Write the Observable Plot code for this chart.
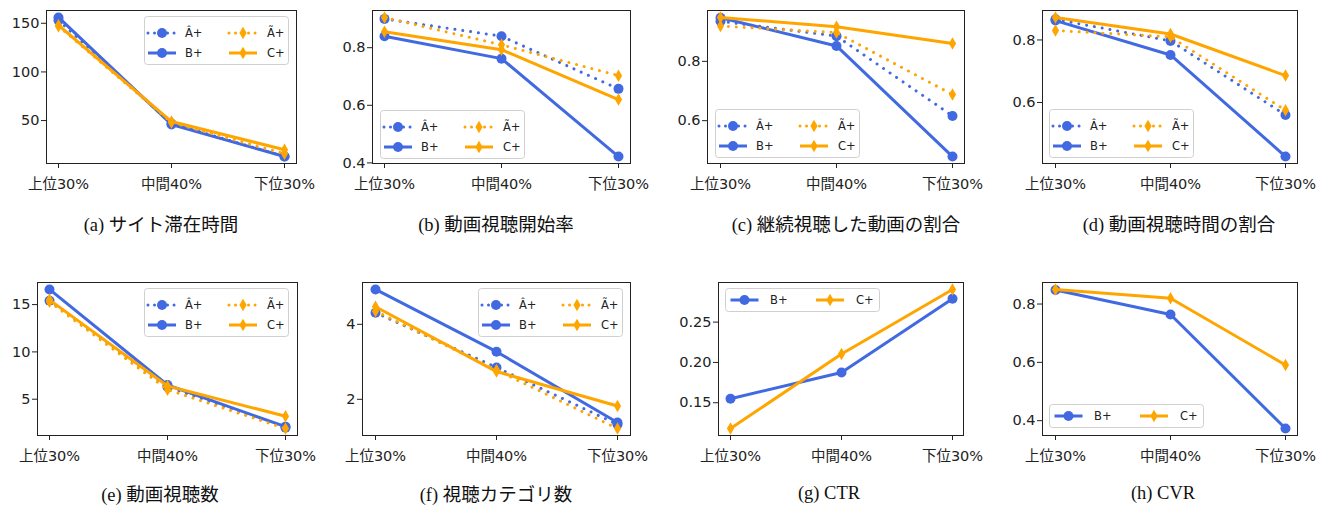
<!DOCTYPE html>
<html><head><meta charset="utf-8">
<script src="https://cdn.jsdelivr.net/npm/d3@7"></script>
<script src="https://cdn.jsdelivr.net/npm/@observablehq/plot@0.6"></script>
<style>
body{margin:0;background:#fff;}
#root{position:relative;width:1329px;height:506px;overflow:hidden;background:#fff;}
.panel{position:absolute;}
.caption{position:absolute;transform:translate(-50%,-50%);font-family:"Liberation Serif","Noto Sans CJK JP",serif;font-size:18.5px;color:#111;white-space:nowrap;}
.legend{position:absolute;}
</style></head><body><div id="root"></div>
<script>
// ---------- data ----------
const categories = ["上位30%", "中間40%", "下位30%"];
const labels4 = ["Â+", "B+", "Ã+", "C+"];
const labels2 = ["B+", "C+"];

// order: Â+, B+, Ã+, C+
const siteStayTime   = [[153, 47, 13], [156, 46, 13], [147, 48, 16], [148, 49, 20]];
const viewStartRate  = [[0.900, 0.840, 0.657], [0.840, 0.762, 0.422], [0.905, 0.810, 0.703], [0.855, 0.793, 0.620]];
const continuedRate  = [[0.935, 0.885, 0.616], [0.947, 0.852, 0.479], [0.919, 0.897, 0.688], [0.948, 0.917, 0.860]];
const watchTimeRate  = [[0.866, 0.797, 0.560], [0.862, 0.752, 0.427], [0.830, 0.810, 0.575], [0.872, 0.819, 0.686]];
const viewCount      = [[15.4, 6.3, 2.0], [16.6, 6.5, 2.1], [15.3, 6.0, 1.9], [15.5, 6.4, 3.2]];
const categoryCount  = [[4.31, 2.85, 1.33], [4.93, 3.27, 1.38], [4.35, 2.78, 1.22], [4.47, 2.74, 1.82]];
// order: B+, C+
const ctrValues      = [[0.155, 0.1875, 0.279], [0.118, 0.2105, 0.2905]];
const cvrValues      = [[0.848, 0.764, 0.373], [0.850, 0.820, 0.591]];

const ticksA = [50, 100, 150];
const ticksB = [0.4, 0.6, 0.8];
const ticksC = [0.6, 0.8];
const ticksD = [0.6, 0.8];
const ticksE = [5, 10, 15];
const ticksF = [2, 4];
const ticksG = [0.15, 0.20, 0.25];
const ticksH = [0.4, 0.6, 0.8];

const captions = ["(a) サイト滞在時間", "(b) 動画視聴開始率", "(c) 継続視聴した動画の割合", "(d) 動画視聴時間の割合",
                  "(e) 動画視聴数", "(f) 視聴カテゴリ数", "(g) CTR", "(h) CVR"];

// ---------- styles ----------
const BLUE = "#4169E1", ORANGE = "#FFA500";
const DOTS = "0.01,7.9";
const style4 = [
  {color: BLUE, dotted: true, shape: "circle"},
  {color: BLUE, dotted: false, shape: "circle"},
  {color: ORANGE, dotted: true, shape: "diamond"},
  {color: ORANGE, dotted: false, shape: "diamond"}
];
const style2 = [style4[1], style4[3]];

const thinDiamond = {
  draw(ctx, size) {
    const r = Math.sqrt(size / Math.PI);
    const h = 1.25 * r, w = 0.72 * r;
    ctx.moveTo(0, -h); ctx.lineTo(w, 0); ctx.lineTo(0, h); ctx.lineTo(-w, 0); ctx.closePath();
  }
};

// layout: frame [L, T, R, B], legend [x, y], caption [cx, cy]
const panels = [
  {data: siteStayTime, names: labels4, styles: style4, ticks: ticksA, fmt: d3.format("d"),   frame: [46, 10, 296, 163],   legend: [144, 16],  cap: [161, 223]},
  {data: viewStartRate, names: labels4, styles: style4, ticks: ticksB, fmt: d3.format(".1f"), frame: [372, 10, 630, 163],  legend: [380, 110], cap: [496, 223]},
  {data: continuedRate, names: labels4, styles: style4, ticks: ticksC, fmt: d3.format(".1f"), frame: [707, 10, 964, 163],  legend: [715, 109], cap: [846, 223]},
  {data: watchTimeRate, names: labels4, styles: style4, ticks: ticksD, fmt: d3.format(".1f"), frame: [1042, 10, 1297, 163], legend: [1049, 109], cap: [1179, 223]},
  {data: viewCount, names: labels4, styles: style4, ticks: ticksE, fmt: d3.format("d"),       frame: [37, 282, 297, 435],  legend: [144, 288], cap: [160, 493]},
  {data: categoryCount, names: labels4, styles: style4, ticks: ticksF, fmt: d3.format("d"),   frame: [362, 282, 630, 435], legend: [478, 288], cap: [496, 493]},
  {data: ctrValues, names: labels2, styles: style2, ticks: ticksG, fmt: d3.format(".2f"),     frame: [718, 282, 963, 435], legend: [725, 288], cap: [829, 493]},
  {data: cvrValues, names: labels2, styles: style2, ticks: ticksH, fmt: d3.format(".1f"),     frame: [1042, 282, 1297, 435], legend: [1049, 404], cap: [1163, 493]}
];

const root = document.getElementById("root");
const ML = 50, MR = 10, MT = 10, MB = 40;

panels.forEach((p, pi) => {
  const [L, T, R, B] = p.frame;
  const rows = p.data.flatMap((vals, si) => vals.map((v, i) => ({cat: categories[i], v, s: p.names[si]})));
  const all = rows.map(d => d.v);
  const lo = d3.min(all), hi = d3.max(all), pad = (hi - lo) * 0.05;
  const marks = [
    Plot.frame({stroke: "#222", strokeWidth: 1}),
    Plot.axisX({tickSize: 5, tickPadding: 10, label: null, fontSize: 14.5}),
    Plot.axisY({ticks: p.ticks, tickFormat: p.fmt, tickSize: 5, tickPadding: 2, label: null, fontSize: 14.5})
  ];
  p.names.forEach((name, si) => {
    const st = p.styles[si];
    const sub = rows.filter(d => d.s === name);
    marks.push(Plot.line(sub, {x: "cat", y: "v", stroke: st.color, strokeWidth: 3,
      strokeDasharray: st.dotted ? DOTS : null, strokeLinecap: st.dotted ? "round" : "butt"}));
    marks.push(Plot.dot(sub, {x: "cat", y: "v", r: 5, fill: st.color, stroke: "none",
      symbol: st.shape === "circle" ? "circle" : thinDiamond}));
  });
  const chart = Plot.plot({
    width: (R - L) + ML + MR, height: (B - T) + MT + MB,
    marginLeft: ML, marginRight: MR, marginTop: MT, marginBottom: MB,
    x: {type: "point", domain: categories, padding: 0.1, label: null},
    y: {domain: [lo - pad, hi + pad], label: null},
    style: {fontFamily: '"DejaVu Sans","Noto Sans CJK JP",sans-serif', fontSize: "14.5px", color: "#222",
            background: "transparent", overflow: "visible"},
    marks
  });
  const wrap = document.createElement("div");
  wrap.className = "panel";
  wrap.style.left = (L - ML) + "px";
  wrap.style.top = (T - MT) + "px";
  wrap.appendChild(chart);
  root.appendChild(wrap);

  // legend
  const four = p.names.length === 4;
  const lw = four ? 145 : 155, lh = four ? 49 : 24;
  const colCenters = four ? [18, 99] : [19.5, 105];
  const colLabels = four ? [41, 123] : [45, 131];
  const rowYs = four ? [17, 37] : [12];
  const lg = d3.create("svg").attr("width", lw).attr("height", lh)
    .style("position", "absolute").style("left", p.legend[0] + "px").style("top", p.legend[1] + "px")
    .style("overflow", "visible");
  lg.append("rect").attr("x", 0.5).attr("y", 0.5).attr("width", lw - 1).attr("height", lh - 1)
    .attr("rx", 3).attr("fill", "white").attr("fill-opacity", 0.8).attr("stroke", "#d0d0d0");
  p.names.forEach((name, si) => {
    const col = four ? Math.floor(si / 2) : si;
    const row = four ? si % 2 : 0;
    const st = p.styles[si];
    const cx = colCenters[col], cy = rowYs[row];
    lg.append("line").attr("x1", cx - 14).attr("x2", cx + 14).attr("y1", cy).attr("y2", cy)
      .attr("stroke", st.color).attr("stroke-width", 3)
      .attr("stroke-dasharray", st.dotted ? "0.01,6.5" : null)
      .attr("stroke-linecap", st.dotted ? "round" : "butt");
    if (st.shape === "circle") {
      lg.append("circle").attr("cx", cx).attr("cy", cy).attr("r", 5).attr("fill", st.color);
    } else {
      const path = d3.path();
      thinDiamond.draw(path, 25 * Math.PI);
      lg.append("path").attr("d", path.toString()).attr("transform", `translate(${cx},${cy})`).attr("fill", st.color);
    }
    lg.append("text").attr("x", colLabels[col]).attr("y", cy).attr("dy", "0.35em")
      .attr("font-family", '"DejaVu Sans","Noto Sans",sans-serif').attr("font-size", 11.5)
      .attr("fill", "#222").text(name);
  });
  root.appendChild(lg.node());

  // caption
  const cap = document.createElement("div");
  cap.className = "caption";
  cap.style.left = p.cap[0] + "px";
  cap.style.top = p.cap[1] + "px";
  cap.textContent = captions[pi];
  root.appendChild(cap);
});
</script></body></html>
